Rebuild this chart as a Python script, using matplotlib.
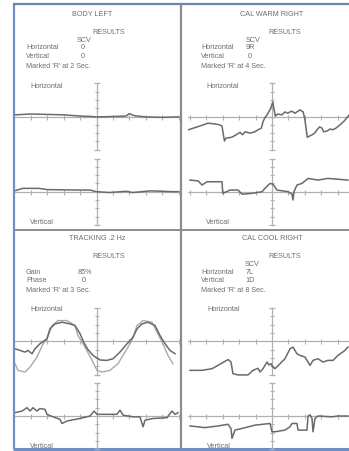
import matplotlib
matplotlib.use("Agg")
import matplotlib.pyplot as plt
import numpy as np

# ---- trace data: time (s, relative to centre mark) and eye position ----
body_h_t = [-5.0, -4.0, -3.0, -2.0, -1.0, -0.3, 0.0, 1.0, 1.8, 2.0, 2.3, 3.0, 4.0, 5.0]
body_h_v = [0.2, 0.3, 0.25, 0.2, 0.05, 0.0, -0.05, 0.0, 0.05, 0.35, 0.1, -0.05, -0.1, -0.05]
body_v_t = [-5.0, -4.5, -3.5, -3.0, -1.0, -0.4, 0.0, 0.8, 1.8, 2.2, 3.3, 4.7, 5.0]
body_v_v = [0.1, 0.4, 0.4, 0.25, 0.2, 0.2, 0.0, -0.1, 0.05, -0.1, 0.1, 0.0, 0.0]

warm_h_t = [-5.1, -4.4, -3.9, -3.5, -3.2, -3.05, -2.9, -2.8, -2.45, -2.1, -1.95, -1.8,
            -1.65, -1.35, -1.05, -0.85, -0.65, -0.55, -0.45, -0.3, -0.1, 0.05, 0.1, 0.2,
            0.35, 0.6, 0.8, 0.95, 1.2, 1.4, 1.6, 1.7, 1.9, 2.0, 2.15, 2.45, 2.6, 2.75,
            2.9, 3.05, 3.15, 3.35, 3.55, 3.7, 3.9, 4.15, 4.4, 4.65, 4.8]
warm_h_v = [-1.6, -1.15, -0.8, -0.9, -1.0, -1.15, -2.95, -2.6, -2.5, -2.1, -1.9, -2.2,
            -1.85, -2.0, -1.85, -1.6, -1.4, -0.65, -0.2, 0.2, 0.9, 1.75, 1.15, 0.05,
            0.3, 0.2, 0.55, 0.4, 0.65, 0.4, 0.65, 0.8, 0.55, -0.3, -2.5, -2.2, -2.0, -1.6,
            -1.25, -1.4, -1.85, -1.75, -1.5, -1.6, -1.4, -1.0, -0.55, 0.05, 0.4]
warm_v_t = [-5.0, -4.5, -4.27, -3.96, -3.05, -3.0, -2.56, -2.07, -1.83, -1.22, -0.61,
            -0.43, -0.12, 0.06, 0.3, 0.98, 1.22, 1.28, 1.34, 1.52, 1.83, 2.2, 2.8, 3.41,
            4.02, 4.63]
warm_v_v = [1.4, 1.3, 0.8, 1.2, 1.2, -0.2, 0.2, 0.2, -0.3, -0.2, 0.0, 0.4, 1.0, 0.9,
            0.2, 0.0, -0.3, -1.0, 0.0, 0.8, 1.0, 1.6, 1.4, 1.6, 1.5, 1.4]

track_eye_t = [-4.97, -4.66, -4.36, -4.18, -3.93, -3.75, -3.45, -3.02, -2.84, -2.53, -2.1,
               -1.62, -1.31, -1.0, -0.76, -0.52, -0.21, 0.21, 0.64, 1.01, 1.43, 1.86, 2.23,
               2.47, 2.77, 3.14, 3.57, 3.87, 4.18, 4.48, 4.79]
track_eye_v = [-0.9, -1.1, -1.3, -1.1, -1.5, -0.9, -0.3, 0.3, 1.5, 2.1, 2.3,
               2.1, 1.9, 0.9, -0.2, -1.0, -1.7, -2.25, -2.3, -2.1, -1.3, -0.3, 0.5,
               1.5, 2.1, 2.3, 1.9, 0.7, -0.3, -1.1, -1.5]
track_tgt_t = [-4.97, -4.79, -4.36, -4.05, -3.63, -3.26, -3.02, -2.71, -2.35, -1.8, -1.31,
               -1.13, -0.7, -0.27, 0.03, 0.34, 0.82, 1.31, 1.74, 2.16, 2.47, 2.84, 3.38,
               3.69, 4.05, 4.36, 4.66]
track_tgt_v = [-2.7, -3.5, -3.7, -3.1, -1.9, -0.3, 0.3, 1.9, 2.5, 2.5, 1.9,
               0.7, -0.7, -2.3, -3.5, -3.7, -3.5, -2.7, -1.3, 0.1, 1.9, 2.5, 2.3,
               1.1, -0.3, -1.7, -2.7]
track_v_t = [-4.97, -4.54, -4.24, -4.05, -3.87, -3.63, -3.45, -3.14, -3.02, -2.65, -2.23,
             -2.1, -1.8, -1.01, -0.4, -0.15, 0.03, 1.25, 1.43, 1.62, 2.23, 2.65, 2.84,
             2.96, 3.45, 4.3, 4.6, 4.79, 4.97]
track_v_v = [0.4, 0.6, 1.0, 0.6, 1.0, 0.6, 0.9, 0.8, 0.2, -0.1, -0.4,
             -0.9, -0.6, -0.3, 0.0, 0.6, 0.2, 0.2, 0.7, 0.1, -0.1, -0.1, -1.3,
             -0.5, -0.3, -0.2, 0.6, 0.2, 0.4]

cool_h_t = [-5.0, -4.27, -3.66, -3.29, -2.68, -2.5, -2.38, -2.07, -1.46, -1.16, -0.85,
            -0.73, -0.55, -0.3, -0.18, -0.06, 0.06, 0.18, 0.49, 0.79, 1.1, 1.28, 1.52,
            1.71, 2.01, 2.32, 2.5, 2.8, 3.11, 3.41, 3.72, 4.02, 4.45, 4.63]
cool_h_v = [-3.5, -3.5, -3.3, -2.9, -2.2, -2.5, -3.9, -4.05, -4.05, -3.5, -3.25,
            -3.7, -3.3, -2.5, -2.85, -2.7, -3.1, -3.3, -2.7, -2.1, -0.9, -0.7, -1.5,
            -1.7, -1.9, -2.9, -2.3, -2.1, -2.5, -2.3, -2.3, -1.7, -1.1, -0.7]
cool_v_t = [-5.0, -4.09, -3.29, -2.68, -2.5, -2.44, -2.26, -1.83, -1.04, -0.12, 0.0,
            0.18, 0.79, 1.1, 1.22, 1.52, 1.59, 2.13, 2.2, 2.32, 2.44, 2.5, 2.62, 2.8,
            3.66, 4.02, 4.63]
cool_v_v = [-1.2, -1.4, -1.2, -1.0, -1.5, -2.7, -1.7, -1.5, -1.1, -0.9, -1.9,
            -1.9, -1.7, -1.3, -0.9, -0.9, -1.7, -1.7, 0.0, 0.15, -0.3, -1.9, -0.3, 0.0,
            -0.1, 0.0, 0.0]

# ---- page geometry (pixels) ----
W, H = 349, 452
UNIT_X = 16.4      # pixels per second
UNIT_Y = 8.3       # pixels per degree
HALF = 4.4         # visible half-range of each trace window (deg)

TEXT_C = "#6e6e6e"
TRACE_C = "#6a6a6a"
TARGET_C = "#a9a9a9"
AXIS_C = "#b0b0b0"
BLUE = "#6f8fc4"
DIV_C = "#8c8c8c"

plt.rcParams["font.family"] = ["Liberation Sans", "DejaVu Sans"]

fig = plt.figure(figsize=(W / 100, H / 100), dpi=100)
fig.patch.set_facecolor("white")

# page frame: borders and panel dividers in pixel coordinates
frame = fig.add_axes([0, 0, 1, 1])
frame.set_xlim(0, W)
frame.set_ylim(H, 0)
frame.axis("off")
frame.plot([13.5, 13.5], [5, 450], color=BLUE, lw=1.6, solid_capstyle="butt")
frame.plot([13, W], [5, 5], color="#6a84ad", lw=1.6, solid_capstyle="butt")
frame.plot([13, W], [450, 450], color=BLUE, lw=2.2, solid_capstyle="butt")
frame.plot([181, 181], [5, 450], color=DIV_C, lw=1.6, solid_capstyle="butt")
frame.plot([14, W], [231, 231], color=DIV_C, lw=1.4, solid_capstyle="butt")


def trace_axes(x0, x1, xc, yc):
    ax = fig.add_axes([x0 / W, 1 - (yc + HALF * UNIT_Y) / H,
                       (x1 - x0) / W, 2 * HALF * UNIT_Y / H])
    ax.set_xlim((x0 - xc) / UNIT_X, (x1 - xc) / UNIT_X)
    ax.set_ylim(-HALF, HALF)
    ax.axis("off")
    # time axis with one-second ticks
    ax.axhline(0, color=AXIS_C, lw=0.9, zorder=1)
    lo, hi = ax.get_xlim()
    secs = [s for s in range(int(np.ceil(lo)), int(np.floor(hi)) + 1) if s != 0]
    ax.plot(secs, [0] * len(secs), ls="none", marker="|", ms=3.6,
            mew=0.8, color=AXIS_C, zorder=1)
    # amplitude axis through the centre mark
    ax.plot([0, 0], [-4, 4], color=AXIS_C, lw=0.9, zorder=1)
    ax.plot([0] * 7, list(range(-3, 4)), ls="none", marker="_", ms=3.2,
            mew=0.8, color=AXIS_C, zorder=1)
    ax.plot([0, 0], [-4, 4], ls="none", marker="_", ms=4.6,
            mew=0.9, color=AXIS_C, zorder=1)
    return ax


def label(x, y, s, ha="left", size=5.2):
    fig.text(x / W, 1 - y / H, s, ha=ha, va="center", fontsize=size, color=TEXT_C)


# panel windows: (x0, x1, centre x)
LEFT = (15, 180, 96.5)
RIGHT = (188, W, 272)
TOP_H, TOP_V = 117.5, 192.7
BOT_H, BOT_V = 342.3, 417.0

# BODY LEFT
ax = trace_axes(*LEFT, TOP_H)
ax.plot(body_h_t, body_h_v, color=TRACE_C, lw=1.1, zorder=3)
ax = trace_axes(*LEFT, TOP_V)
ax.plot(body_v_t, body_v_v, color=TRACE_C, lw=1.1, zorder=3)
label(92, 15, "BODY LEFT", ha="center")
label(109, 32, "RESULTS", ha="center")
label(84, 40, "SCV", ha="center")
label(26, 48, "Horizontal")
label(83, 48, "0", ha="center")
label(26, 57, "Vertical")
label(83, 57, "0", ha="center")
label(26, 66, "Marked 'R' at 2 Sec.")
label(30, 86, "Horizontal")
label(30, 223, "Vertical")

# CAL WARM RIGHT
ax = trace_axes(*RIGHT, TOP_H)
ax.plot(warm_h_t, warm_h_v, color=TRACE_C, lw=1.1, zorder=3)
ax = trace_axes(*RIGHT, TOP_V)
ax.plot(warm_v_t, warm_v_v, color=TRACE_C, lw=1.1, zorder=3)
label(272, 15, "CAL WARM RIGHT", ha="center")
label(285, 32, "RESULTS", ha="center")
label(253, 40, "SCV", ha="center")
label(201, 48, "Horizontal")
label(250, 48, "9R", ha="center")
label(201, 57, "Vertical")
label(250, 57, "0", ha="center")
label(201, 66, "Marked 'R' at 4 Sec.")
label(206, 86, "Horizontal")
label(206, 223, "Vertical")

# TRACKING .2 Hz
ax = trace_axes(*LEFT, BOT_H)
ax.plot(track_tgt_t, track_tgt_v, color=TARGET_C, lw=1.0, zorder=2)
ax.plot(track_eye_t, track_eye_v, color=TRACE_C, lw=1.1, zorder=3)
ax = trace_axes(*LEFT, BOT_V)
ax.plot(track_v_t, track_v_v, color=TRACE_C, lw=1.1, zorder=3)
label(97, 239, "TRACKING .2 Hz", ha="center")
label(109, 256, "RESULTS", ha="center")
label(26, 272, "Gain")
label(85, 272, "85%", ha="center")
label(26, 281, "Phase")
label(84, 281, "0", ha="center")
label(26, 290, "Marked 'R' at 3 Sec.")
label(30, 310, "Horizontal")
label(30, 447, "Vertical")

# CAL COOL RIGHT
ax = trace_axes(*RIGHT, BOT_H)
ax.plot(cool_h_t, cool_h_v, color=TRACE_C, lw=1.1, zorder=3)
ax = trace_axes(*RIGHT, BOT_V)
ax.plot(cool_v_t, cool_v_v, color=TRACE_C, lw=1.1, zorder=3)
label(272, 239, "CAL COOL RIGHT", ha="center")
label(285, 256, "RESULTS", ha="center")
label(252, 264, "SCV", ha="center")
label(201, 272, "Horizontal")
label(250, 272, "7L", ha="center")
label(201, 281, "Vertical")
label(250, 281, "1D", ha="center")
label(201, 290, "Marked 'R' at 8 Sec.")
label(207, 310, "Horizontal")
label(207, 447, "Vertical")

fig.savefig("out.png", dpi=100, facecolor="white")
